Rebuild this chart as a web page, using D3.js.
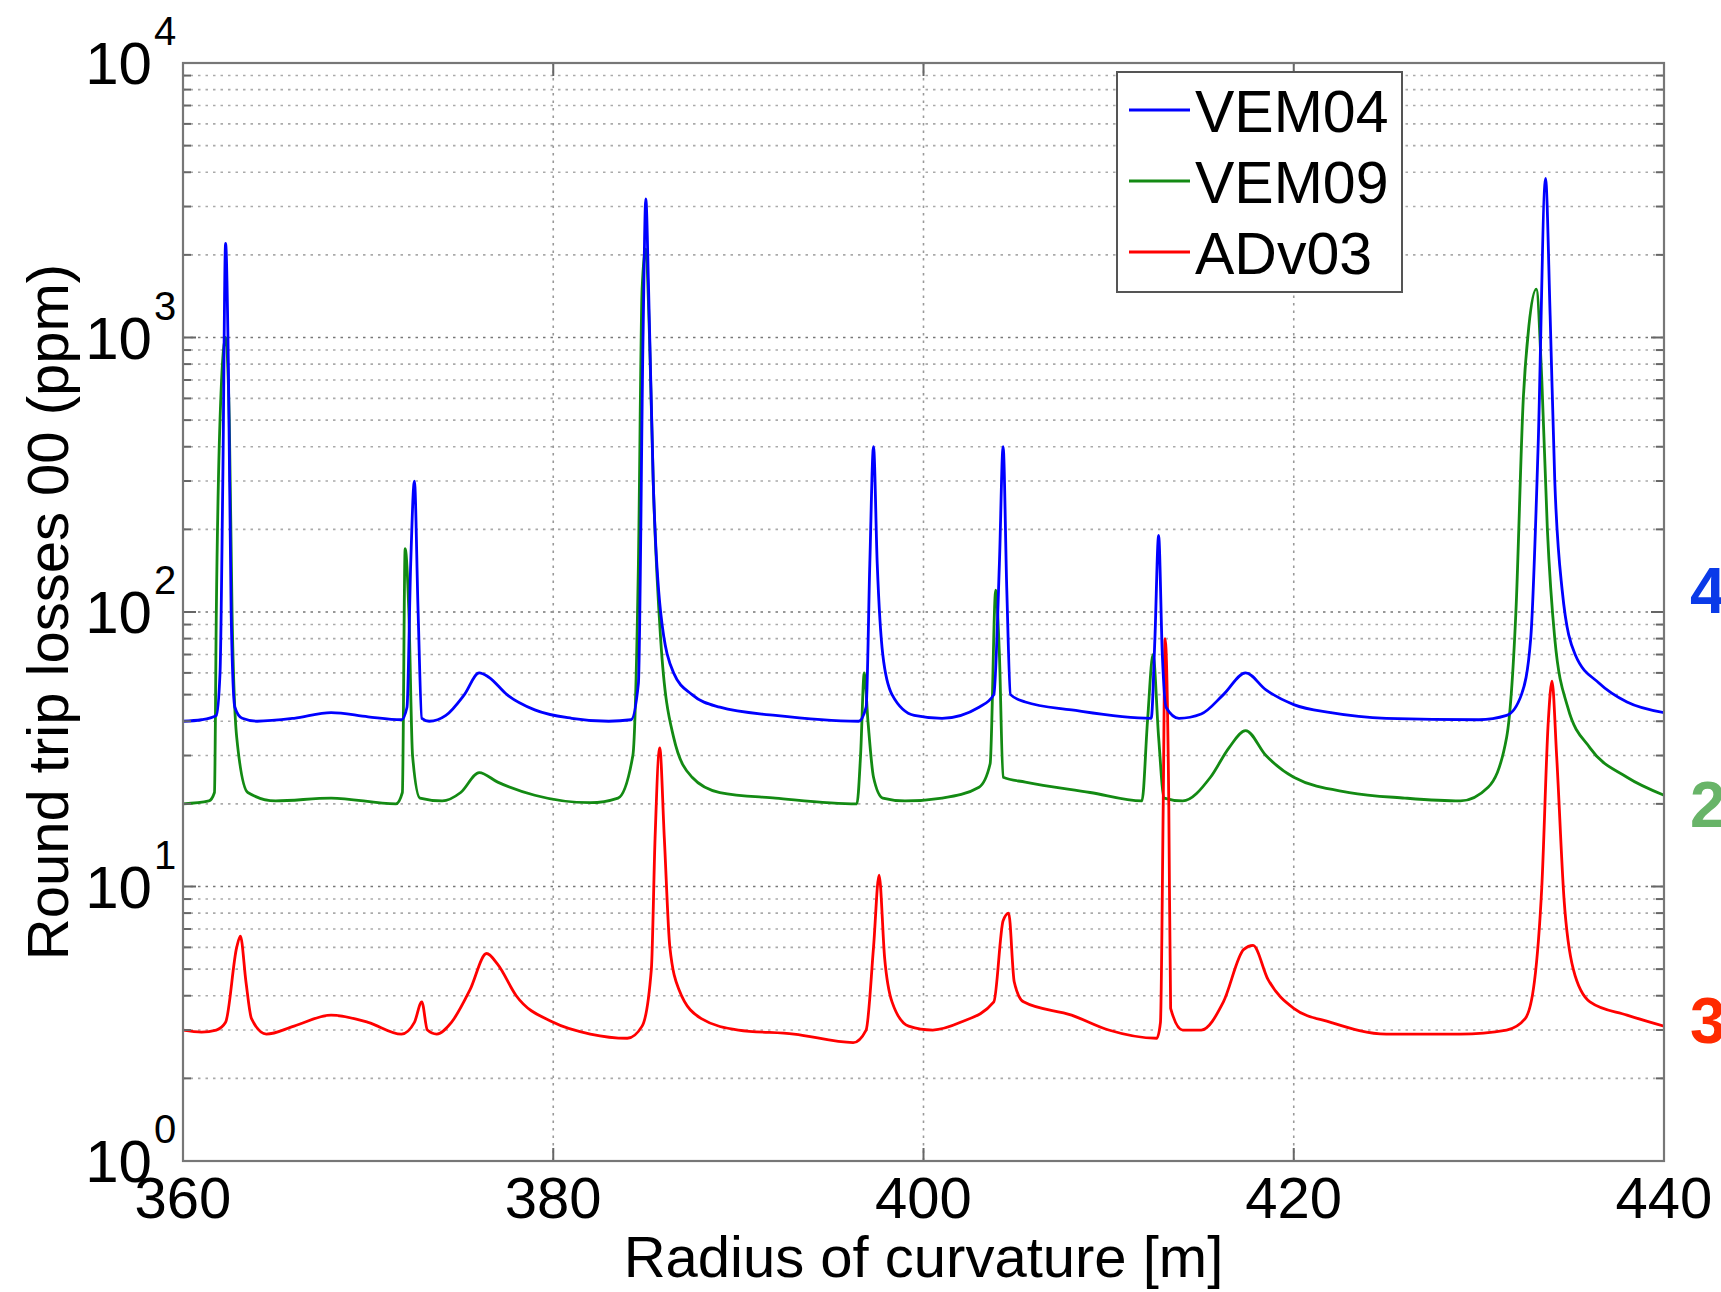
<!DOCTYPE html>
<html>
<head>
<meta charset="utf-8">
<script src="https://cdn.jsdelivr.net/npm/d3@7"></script>
<style>
  body { margin: 0; background: #fff; }
  svg text { font-family: "Liberation Sans", Arial, sans-serif; fill: #000; }
</style>
</head>
<body>
<div id="chart"></div>
<script>
// values
var seriesNames = ['VEM04', 'VEM09', 'ADv03'];
var xTicks = [360, 380, 400, 420, 440];
var yExponents = [0, 1, 2, 3, 4];
var sideLabels = ['4', '2', '3'];

var vem04Radius = [360, 361, 361.8, 362.0, 362.15, 362.3, 362.45, 362.6, 362.8, 363.2, 364, 366, 368, 370, 371.8, 372.1, 372.3, 372.5, 372.7, 372.9, 373.3, 374.2, 375.2, 376.0, 376.5, 377.5, 379, 381, 383, 384.2, 384.6, 384.85, 385.0, 385.15, 385.4, 385.8, 386.5, 387.5, 389, 392, 396.5, 396.9, 397.1, 397.3, 397.5, 397.8, 398.3, 399.5, 401, 403, 403.8, 404.1, 404.3, 404.5, 404.7, 405.5, 408, 412.3, 412.5, 412.7, 412.9, 413.1, 413.8, 415, 416.2, 417.4, 418.5, 420, 422, 425, 430, 431.5, 432.3, 432.8, 433.2, 433.6, 433.85, 434.1, 434.5, 435.2, 436.5, 438, 440];
var vem04Loss = [40, 40.5, 42, 60, 300, 2200, 800, 100, 45, 41, 40, 41, 43, 41.5, 40.5, 45, 150, 300, 100, 41, 40, 42, 50, 60, 58, 50, 44, 41, 40, 40.5, 55, 1000, 3200, 1500, 300, 100, 60, 50, 45, 42, 40, 45, 150, 400, 150, 70, 50, 42, 41, 45, 50, 150, 400, 120, 50, 47, 44, 41, 80, 190, 70, 45, 41, 42.5, 50, 60, 52, 46, 43, 41, 40.5, 42, 50, 80, 400, 3800, 1200, 300, 120, 70, 55, 47, 43];

var vem09Radius = [360, 361.4, 361.7, 361.8, 362.0, 362.3, 362.5, 362.65, 362.9, 363.5, 365, 368, 371.5, 371.85, 372.0, 372.2, 372.4, 372.8, 374, 375, 376, 377, 379, 382, 383.5, 384.3, 384.6, 384.8, 385.0, 385.2, 385.4, 385.8, 386.5, 387.5, 389, 392, 396.4, 396.6, 396.8, 397.0, 397.3, 397.8, 399, 401, 403, 403.6, 403.9, 404.1, 404.3, 405.5, 409, 411.8, 412.1, 412.4, 412.7, 413.0, 414, 415.5, 416.5, 417.4, 418.5, 420, 423, 426, 429, 430.5, 431.5, 432.0, 432.4, 432.7, 433.1, 433.4, 433.7, 434.1, 434.8, 436, 438, 440];
var vem09Loss = [20, 20.5, 22, 100, 500, 1000, 500, 100, 35, 22, 20.5, 21, 20, 22, 170, 100, 30, 21, 20.5, 22, 26, 24, 21.5, 20.2, 21, 30, 150, 1500, 2100, 1000, 300, 80, 35, 25, 22, 21, 20, 30, 60, 40, 25, 21, 20.5, 21, 23, 28, 120, 70, 25, 24, 22, 20.5, 40, 70, 35, 21, 20.5, 25, 32, 37, 30, 25, 22, 21, 20.5, 23, 35, 100, 600, 1100, 1500, 700, 200, 80, 45, 32, 25, 21.5];

var adv03Radius = [360, 361, 361.8, 362.3, 362.9, 363.1, 363.4, 363.7, 364.5, 366, 368, 370, 371.8, 372.5, 372.9, 373.2, 373.7, 374.5, 375.5, 376.4, 377, 378, 380, 382, 384.0, 384.8, 385.3, 385.5, 385.75, 386.0, 386.3, 386.8, 388, 390, 393, 396.2, 396.9, 397.3, 397.6, 397.9, 398.3, 399.2, 400.5, 402, 403.8, 404.3, 404.6, 404.9, 405.4, 408, 410, 412.6, 412.8, 412.95, 413.05, 413.25, 413.35, 414, 415, 416.2, 417.3, 417.8, 418.6, 420, 422, 425, 429, 431.5, 432.5, 433.0, 433.4, 433.75, 433.95, 434.2, 434.6, 435.1, 436, 438, 440];
var adv03Loss = [3.0, 2.95, 3.0, 3.2, 6.0, 6.6, 4.5, 3.3, 2.9, 3.1, 3.4, 3.2, 2.9, 3.2, 3.8, 3.0, 2.9, 3.2, 4.2, 5.7, 5.2, 4.0, 3.2, 2.9, 2.8, 3.1, 5, 15, 32, 15, 6, 4.2, 3.3, 3.0, 2.9, 2.7, 3.0, 6, 11, 5.5, 3.8, 3.1, 3.0, 3.2, 3.8, 7.5, 8, 4.5, 3.8, 3.4, 3.0, 2.8, 3.2, 20, 80, 20, 3.6, 3.0, 3.0, 3.8, 5.9, 6.1, 4.6, 3.6, 3.2, 2.9, 2.9, 3.0, 3.3, 4.5, 10, 40, 56, 30, 9, 5, 3.8, 3.4, 3.1];

var seriesColors = ['#0000ff', '#138a13', '#ff0000'];
var sideColors = ['#0a3ae8', '#68b468', '#ff2a00'];

(function(d3) {
  'use strict';

  var width = 1721;
  var height = 1292;
  var plot = { left: 183, right: 1664, top: 63, bottom: 1161 };

  var svg = d3.select('#chart')
    .append('svg')
    .attr('width', width)
    .attr('height', height);

  var x = d3.scaleLinear()
    .domain([360, 440])
    .range([plot.left, plot.right]);

  var y = d3.scaleLog()
    .domain([1, 10000])
    .range([plot.bottom, plot.top]);

  // horizontal grid, decades plus minor steps
  var gridVals = [];
  yExponents.forEach(function(e) {
    if (e < 4) {
      for (var k = 2; k <= 9; k++) gridVals.push(k * Math.pow(10, e));
    }
    if (e > 0 && e < 4) gridVals.push(Math.pow(10, e));
  });

  svg.append('g')
    .selectAll('line')
    .data(gridVals)
    .enter()
    .append('line')
    .attr('x1', plot.left)
    .attr('x2', plot.right)
    .attr('y1', function(d) { return y(d); })
    .attr('y2', function(d) { return y(d); })
    .attr('stroke', function(d) { return Math.log10(d) % 1 === 0 ? '#777' : '#aaa'; })
    .attr('stroke-width', 1.6)
    .attr('stroke-dasharray', '2.5,5');

  svg.append('g')
    .selectAll('line')
    .data(xTicks.slice(1, -1))
    .enter()
    .append('line')
    .attr('x1', function(d) { return x(d); })
    .attr('x2', function(d) { return x(d); })
    .attr('y1', plot.top)
    .attr('y2', plot.bottom)
    .attr('stroke', '#999')
    .attr('stroke-width', 1.6)
    .attr('stroke-dasharray', '2.5,5');

  // lines
  svg.append('clipPath')
    .attr('id', 'plot-clip')
    .append('rect')
    .attr('x', plot.left)
    .attr('y', plot.top)
    .attr('width', plot.right - plot.left)
    .attr('height', plot.bottom - plot.top);

  var radii = [vem04Radius, vem09Radius, adv03Radius];
  var losses = [vem04Loss, vem09Loss, adv03Loss];

  var line = d3.line()
    .curve(d3.curveMonotoneX)
    .x(function(d) { return x(d[0]); })
    .y(function(d) { return y(d[1]); });

  // draw green first, then red, blue on top like the picture
  [1, 2, 0].forEach(function(i) {
    var pts = d3.zip(radii[i], losses[i]);
    svg.append('path')
      .attr('clip-path', 'url(#plot-clip)')
      .attr('d', line(pts))
      .attr('fill', 'none')
      .attr('stroke', seriesColors[i])
      .attr('stroke-width', 2.8)
      .attr('stroke-linejoin', 'round');
  });

  // ticks on all four sides
  var ticks = svg.append('g').attr('stroke', '#666').attr('stroke-width', 2);
  gridVals.concat([1, 10000]).forEach(function(v) {
    var len = Math.log10(v) % 1 === 0 ? 13 : 8;
    ticks.append('line').attr('x1', plot.left).attr('x2', plot.left + len)
      .attr('y1', y(v)).attr('y2', y(v));
    ticks.append('line').attr('x1', plot.right).attr('x2', plot.right - len)
      .attr('y1', y(v)).attr('y2', y(v));
  });
  xTicks.forEach(function(v) {
    ticks.append('line').attr('x1', x(v)).attr('x2', x(v))
      .attr('y1', plot.bottom).attr('y2', plot.bottom - 13);
    ticks.append('line').attr('x1', x(v)).attr('x2', x(v))
      .attr('y1', plot.top).attr('y2', plot.top + 13);
  });

  svg.append('rect')
    .attr('x', plot.left)
    .attr('y', plot.top)
    .attr('width', plot.right - plot.left)
    .attr('height', plot.bottom - plot.top)
    .attr('fill', 'none')
    .attr('stroke', '#777')
    .attr('stroke-width', 2.2);

  // tick labels
  svg.append('g')
    .selectAll('text')
    .data(xTicks)
    .enter()
    .append('text')
    .attr('x', function(d) { return x(d); })
    .attr('y', 1218)
    .attr('text-anchor', 'middle')
    .attr('font-size', 58)
    .text(function(d) { return d; });

  var yLab = svg.append('g');
  yExponents.forEach(function(e) {
    var ty = y(Math.pow(10, e));
    yLab.append('text')
      .attr('x', 152)
      .attr('y', ty + 21)
      .attr('text-anchor', 'end')
      .attr('font-size', 60)
      .text('10');
    yLab.append('text')
      .attr('x', 154)
      .attr('y', ty - 18)
      .attr('font-size', 40)
      .text(e);
  });

  // axis titles
  svg.append('text')
    .attr('x', (plot.left + plot.right) / 2)
    .attr('y', 1277)
    .attr('text-anchor', 'middle')
    .attr('font-size', 58)
    .text('Radius of curvature [m]');

  svg.append('text')
    .attr('transform', 'translate(68,' + ((plot.top + plot.bottom) / 2) + ') rotate(-90)')
    .attr('text-anchor', 'middle')
    .attr('font-size', 58)
    .text('Round trip losses 00 (ppm)');

  // legend
  var legend = svg.append('g');
  legend.append('rect')
    .attr('x', 1117)
    .attr('y', 72)
    .attr('width', 285)
    .attr('height', 220)
    .attr('fill', '#fff')
    .attr('stroke', '#555')
    .attr('stroke-width', 2);

  seriesNames.forEach(function(name, i) {
    var ly = 110 + i * 71;
    legend.append('line')
      .attr('x1', 1129).attr('x2', 1190)
      .attr('y1', ly).attr('y2', ly)
      .attr('stroke', seriesColors[i])
      .attr('stroke-width', 2.8);
    legend.append('text')
      .attr('x', 1195)
      .attr('y', ly + 22)
      .attr('font-size', 59)
      .text(name);
  });

  // cut-off labels at the right edge
  var sideY = [613, 827, 1043];
  sideLabels.forEach(function(t, i) {
    svg.append('text')
      .attr('x', 1690)
      .attr('y', sideY[i])
      .attr('font-size', 64)
      .attr('font-weight', 'bold')
      .style('fill', sideColors[i])
      .text(t);
  });

})(window.d3);
</script>
</body>
</html>
